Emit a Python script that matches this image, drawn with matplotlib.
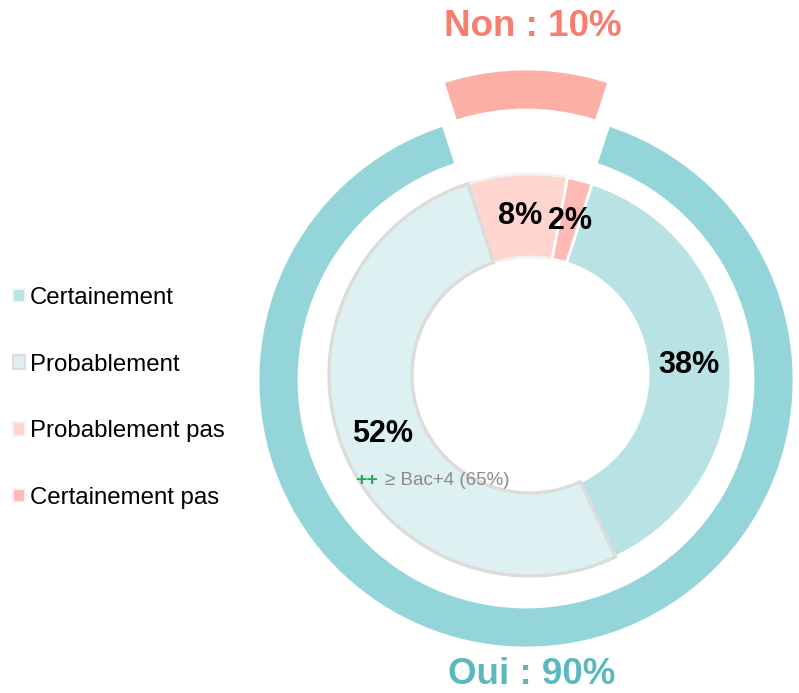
import numpy as np
import matplotlib.pyplot as plt
from matplotlib.patches import Patch

plt.rcParams['font.family'] = ['Liberation Sans', 'DejaVu Sans']

# données
reponses = ["Oui", "Non"]
parts_reponses = [90, 10]
categories = ["Certainement", "Probablement", "Probablement pas", "Certainement pas"]
parts = [38, 52, 8, 2]
note_52 = "\u2265 Bac+4 (65%)"

couleurs_ext = ["#94d5d9", "#fdaea5"]
couleurs_txt_ext = ["#5bb9be", "#f77d70"]
couleurs_int = ["#b9e2e5", "#ddf0f2", "#ffd5d0", "#ffbab5"]
bords_int = ["white", "#dcdcdc", "#f2f2f2", "white"]

W, H = 799, 693
fig = plt.figure(figsize=(W / 100, H / 100), dpi=100)
ax = fig.add_axes([0, 0, 1, 1])

# anneau extérieur (Oui / Non) - explode en unités de données
c_ext = (526, H - 380)
r_ext = 268
ax.pie(parts_reponses, colors=couleurs_ext, startangle=72, counterclock=False,
       center=c_ext, radius=r_ext, explode=[0, 43],
       wedgeprops=dict(width=41, edgecolor="white", linewidth=2))

# donut intérieur
c_int = (530, H - 375)
r_int = 201
wedges, _ = ax.pie(parts, colors=couleurs_int, startangle=72, counterclock=False,
                   center=c_int, radius=r_int,
                   wedgeprops=dict(width=83, linewidth=2))
for w, ec in zip(wedges, bords_int):
    w.set_edgecolor(ec)
wedges[1].set_linewidth(2.4)
wedges[1].set_zorder(3)

# étiquettes des pourcentages au milieu de chaque part
for w, p in zip(wedges, parts):
    a = np.deg2rad((w.theta1 + w.theta2) / 2)
    x = c_int[0] + 159 * np.cos(a)
    y = c_int[1] + 159 * np.sin(a)
    ax.text(x, y, f"{p}%", ha="center", va="center", fontsize=22,
            fontweight="bold", color="black", zorder=5)
    if p == 52:
        ax.text(x - 27, y - 47, "++", ha="left", va="center", fontsize=14,
                fontweight="bold", color="#1aaa55", zorder=5)
        ax.text(x + 3, y - 47, note_52, ha="left", va="center", fontsize=13.5,
                color="#8a8a8a", zorder=5)

# libellés Oui / Non
ax.text(533, H - 26, f"{reponses[1]} : {parts_reponses[1]}%", ha="center", va="center",
        fontsize=26.5, fontweight="bold", color=couleurs_txt_ext[1])
ax.text(532, H - 675, f"{reponses[0]} : {parts_reponses[0]}%", ha="center", va="center",
        fontsize=26.5, fontweight="bold", color=couleurs_txt_ext[0])

ax.set_xlim(0, W)
ax.set_ylim(0, H)
ax.set_aspect("equal")
ax.axis("off")

# légende
handles = [Patch(facecolor=c, edgecolor=("#dcdcdc" if i == 1 else "#f4f4f4"), linewidth=1.5)
           for i, c in enumerate(couleurs_int)]
fig.legend(handles, categories, loc="center left", bbox_to_anchor=(0.016, 1 - 398 / H),
           frameon=False, fontsize=17.3, handlelength=0.5, handleheight=0.5,
           handletextpad=0.2, labelspacing=1.86, borderpad=0, borderaxespad=0)

fig.savefig("out.png", dpi=100)
